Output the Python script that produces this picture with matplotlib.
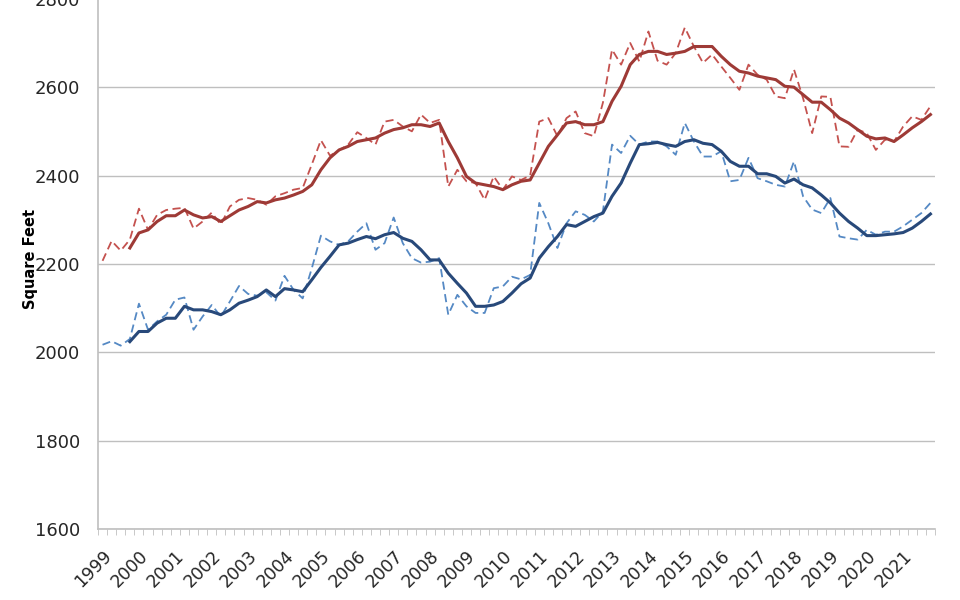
import numpy as np
import matplotlib
matplotlib.use("Agg")
import matplotlib.pyplot as plt

# quarterly data, 1999 Q1 .. 2021 Q4
years = list(range(1999, 2022))

avg_quarterly = [2207, 2252, 2230, 2255, 2325, 2277, 2311, 2322, 2325, 2327,
                 2280, 2296, 2316, 2289, 2330, 2345, 2349, 2345, 2334, 2353,
                 2360, 2368, 2372, 2425, 2480, 2445, 2457, 2470, 2498, 2485,
                 2470, 2522, 2526, 2511, 2500, 2538, 2519, 2526, 2375, 2413,
                 2387, 2383, 2345, 2398, 2368, 2398, 2390, 2400, 2522, 2530,
                 2489, 2530, 2545, 2496, 2489, 2565, 2685, 2651, 2700, 2658,
                 2726, 2660, 2651, 2677, 2735, 2692, 2655, 2674, 2647, 2621,
                 2594, 2651, 2628, 2617, 2579, 2575, 2640, 2575, 2496, 2579,
                 2578, 2466, 2465, 2504, 2496, 2458, 2481, 2477, 2511, 2534,
                 2526, 2557]

avg_moving = [None, None, None, 2236, 2270, 2277, 2296, 2309, 2309, 2322,
              2311, 2304, 2307, 2296, 2309, 2322, 2330, 2341, 2338, 2345,
              2349, 2356, 2364, 2379, 2413, 2440, 2458, 2466, 2477, 2481,
              2485, 2496, 2504, 2508, 2515, 2515, 2511, 2519, 2477, 2440,
              2398, 2383, 2379, 2375, 2368, 2379, 2387, 2390, 2428, 2466,
              2492, 2519, 2522, 2515, 2515, 2522, 2568, 2602, 2651, 2674,
              2681, 2681, 2674, 2677, 2681, 2692, 2692, 2692, 2670, 2651,
              2636, 2632, 2625, 2621, 2617, 2602, 2600, 2583, 2566, 2566,
              2549, 2530, 2519, 2504, 2489, 2483, 2485, 2477, 2492, 2508,
              2522, 2538]

med_quarterly = [2017, 2025, 2015, 2030, 2110, 2051, 2070, 2085, 2119, 2124,
                 2051, 2081, 2107, 2081, 2115, 2150, 2132, 2128, 2136, 2117,
                 2173, 2141, 2122, 2190, 2264, 2251, 2243, 2251, 2273, 2292,
                 2232, 2247, 2305, 2247, 2213, 2203, 2205, 2213, 2085, 2130,
                 2104, 2089, 2089, 2145, 2149, 2171, 2165, 2175, 2338, 2292,
                 2236, 2292, 2319, 2311, 2296, 2319, 2470, 2451, 2490, 2470,
                 2477, 2477, 2466, 2447, 2519, 2477, 2443, 2443, 2455, 2387,
                 2390, 2440, 2394, 2387, 2379, 2375, 2432, 2353, 2323, 2315,
                 2349, 2262, 2258, 2255, 2277, 2266, 2273, 2273, 2285, 2300,
                 2315, 2338]

med_moving = [None, None, None, 2024, 2047, 2047, 2066, 2077, 2077, 2104,
              2096, 2096, 2092, 2085, 2096, 2111, 2118, 2126, 2141, 2126,
              2144, 2141, 2137, 2164, 2192, 2217, 2243, 2247, 2255, 2262,
              2257, 2266, 2271, 2258, 2251, 2232, 2209, 2209, 2179, 2156,
              2134, 2104, 2104, 2107, 2115, 2134, 2155, 2168, 2213, 2239,
              2262, 2289, 2285, 2296, 2307, 2315, 2353, 2383, 2428, 2470,
              2472, 2475, 2470, 2466, 2477, 2481, 2473, 2470, 2455, 2432,
              2421, 2421, 2404, 2404, 2398, 2383, 2392, 2379, 2372, 2356,
              2338, 2315, 2296, 2281, 2264, 2264, 2266, 2268, 2271, 2281,
              2296, 2313]

red_solid = "#9e3a36"
red_dash = "#c4514e"
blue_solid = "#28497a"
blue_dash = "#5589c4"
grey = "#bfbfbf"

def clean(vals):
    return np.array([np.nan if v is None else v for v in vals], dtype=float)

x = np.arange(len(avg_quarterly))

fig = plt.figure(figsize=(9.6, 6), dpi=100)
ax = fig.add_axes([98 / 960, 71 / 600, 837 / 960, 529 / 600 + 0.002])

ax.plot(x, avg_quarterly, color=red_dash, lw=1.3, dashes=(4.5, 2.5))
ax.plot(x, clean(avg_moving), color=red_solid, lw=2.2)
ax.plot(x, med_quarterly, color=blue_dash, lw=1.3, dashes=(4.5, 2.5))
ax.plot(x, clean(med_moving), color=blue_solid, lw=2.2)

ax.set_xlim(-0.5, len(x) - 0.5)
ax.set_ylim(1600, 2800)
ax.set_yticks(range(1600, 2801, 200))
ax.yaxis.grid(True, color=grey, lw=1)
ax.set_axisbelow(True)

for s in ["top", "right"]:
    ax.spines[s].set_visible(False)
ax.spines["left"].set_color(grey)
ax.spines["bottom"].set_color(grey)
ax.spines["left"].set_linewidth(1.2)
ax.spines["bottom"].set_linewidth(1.2)

# quarter boundary ticks and year labels
ax.set_xticks(np.arange(-0.5, len(x), 1.0), minor=True)
ax.set_xticks([4 * k for k in range(len(years))])
ax.set_xticklabels([str(y) for y in years], rotation=45, ha="right",
                   rotation_mode="anchor", fontsize=12.5, color="#262626")
ax.tick_params(axis="x", which="major", length=0, pad=13)
ax.tick_params(axis="x", which="minor", length=4, color=grey, direction="out")
ax.tick_params(axis="y", length=0, pad=13, labelsize=13, labelcolor="#262626")

ax.set_ylabel("Square Feet", fontsize=10.5, fontweight="bold")
ax.yaxis.set_label_coords(-0.072, 0.51)

fig.savefig("out.png", dpi=100)
